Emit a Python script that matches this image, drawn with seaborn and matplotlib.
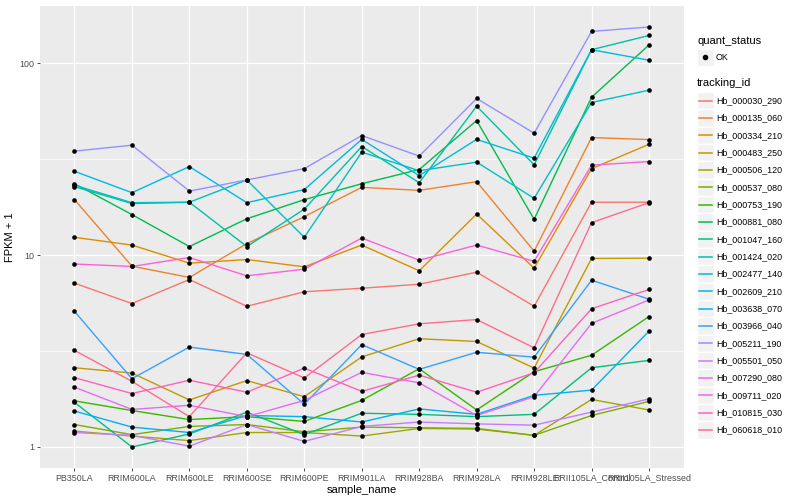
"""
Expression plot of 20 Hb transcripts across rubber tree samples
(cummeRbund / ggplot style, log10 FPKM + 1)
"""

import numpy as np
import pandas as pd
import matplotlib
matplotlib.use("Agg")
import matplotlib.pyplot as plt
from matplotlib.patches import Rectangle
import seaborn as sns

# Samples on the x axis
samples = ["PB350LA", "RRIM600LA", "RRIM600LE", "RRIM600SE", "RRIM600PE",
           "RRIM901LA", "RRIM928BA", "RRIM928LA", "RRIM928LE",
           "RRII105LA_Control", "RRII105LA_Stressed"]

# FPKM + 1 per transcript
hb_000030_290 = [7.15, 5.6, 7.47, 5.42, 6.45, 6.73, 7.06, 8.16, 5.42, 18.9, 18.9]
hb_000135_060 = [19.5, 8.77, 7.66, 11.5, 15.9, 22.6, 21.8, 24.2, 10.5, 41.1, 40.1]
hb_000334_210 = [12.4, 11.3, 9.09, 9.5, 8.7, 11.3, 8.3, 16.4, 8.56, 28.3, 37.9]
hb_000483_250 = [2.59, 2.43, 1.76, 2.22, 1.83, 2.95, 3.67, 3.55, 2.58, 9.62, 9.65]
hb_000506_120 = [1.21, 1.14, 1.08, 1.19, 1.19, 1.14, 1.25, 1.24, 1.15, 1.77, 1.56]
hb_000537_080 = [1.31, 1.16, 1.28, 1.31, 1.20, 1.27, 1.26, 1.25, 1.15, 1.46, 1.73]
hb_000753_190 = [1.74, 1.55, 1.39, 1.44, 1.36, 1.75, 2.56, 1.56, 2.47, 3.01, 4.79]
hb_000881_080 = [23.6, 16.3, 11.1, 15.5, 19.5, 23.6, 28.0, 50.4, 15.4, 66.7, 125]
hb_001047_160 = [1.71, 1.0, 1.17, 1.52, 1.16, 1.50, 1.48, 1.44, 1.48, 2.59, 2.83]
hb_001424_020 = [22.8, 18.6, 18.9, 11.1, 17.4, 36.9, 23.9, 59.9, 29.6, 118, 140]
hb_002477_140 = [23.2, 18.8, 18.9, 24.7, 12.4, 34.5, 27.6, 30.6, 19.8, 62.6, 72.6]
hb_002609_210 = [27.4, 21.2, 29.0, 18.8, 22.0, 40.2, 26.0, 40.2, 32.1, 118, 104]
hb_003638_070 = [1.54, 1.27, 1.19, 1.46, 1.44, 1.35, 1.58, 1.48, 1.86, 1.98, 4.02]
hb_003966_040 = [5.1, 2.27, 3.32, 3.04, 1.67, 3.42, 2.54, 3.12, 2.94, 7.41, 5.9]
hb_005211_190 = [34.9, 37.5, 21.6, 24.7, 28.3, 42.1, 32.9, 65.7, 43.3, 147, 155]
hb_005501_050 = [1.19, 1.15, 1.01, 1.31, 1.07, 1.28, 1.35, 1.32, 1.30, 1.52, 1.78]
hb_007290_080 = [2.05, 1.57, 1.65, 1.44, 1.75, 2.45, 2.16, 1.46, 1.83, 4.41, 5.85]
hb_009711_020 = [9.0, 8.74, 9.73, 7.81, 8.46, 12.3, 9.42, 11.3, 9.3, 29.5, 30.8]
hb_010815_030 = [2.30, 1.90, 2.23, 1.93, 2.58, 1.95, 2.37, 1.93, 2.44, 5.26, 6.63]
hb_060618_010 = [3.19, 2.2, 1.44, 3.1, 2.29, 3.86, 4.39, 4.62, 3.29, 14.8, 18.8]

tracking_ids = ["Hb_000030_290", "Hb_000135_060", "Hb_000334_210", "Hb_000483_250",
                "Hb_000506_120", "Hb_000537_080", "Hb_000753_190", "Hb_000881_080",
                "Hb_001047_160", "Hb_001424_020", "Hb_002477_140", "Hb_002609_210",
                "Hb_003638_070", "Hb_003966_040", "Hb_005211_190", "Hb_005501_050",
                "Hb_007290_080", "Hb_009711_020", "Hb_010815_030", "Hb_060618_010"]

series = [hb_000030_290, hb_000135_060, hb_000334_210, hb_000483_250,
          hb_000506_120, hb_000537_080, hb_000753_190, hb_000881_080,
          hb_001047_160, hb_001424_020, hb_002477_140, hb_002609_210,
          hb_003638_070, hb_003966_040, hb_005211_190, hb_005501_050,
          hb_007290_080, hb_009711_020, hb_010815_030, hb_060618_010]

# ggplot2 default hue palette for 20 levels
hue_colors = ["#F8766D", "#EA8331", "#D89000", "#C09B00", "#A3A500", "#7CAE00",
              "#39B600", "#00BB4E", "#00BF7D", "#00C1A3", "#00BFC4", "#00BAE0",
              "#00B0F6", "#35A2FF", "#9590FF", "#C77CFF", "#E76BF3", "#FA62DB",
              "#FF62BC", "#FF6C90"]

# Long table for seaborn
rows = []
for tid, vals in zip(tracking_ids, series):
    for s, v in zip(samples, vals):
        rows.append({"tracking_id": tid, "sample_name": s, "fpkm1": v, "quant_status": "OK"})
df = pd.DataFrame(rows)
df["x"] = df["sample_name"].map({s: i for i, s in enumerate(samples)})

plt.rcParams["font.family"] = ["Liberation Sans", "DejaVu Sans"]

fig = plt.figure(figsize=(8, 5), dpi=100)
ax = fig.add_axes([40 / 800, 1 - 468 / 500, (683.5 - 40) / 800, (468 - 6) / 500])
ax.set_facecolor("#EBEBEB")

palette = dict(zip(tracking_ids, hue_colors))
sns.lineplot(data=df, x="x", y="fpkm1", hue="tracking_id", palette=palette,
             sort=False, estimator=None, legend=False, linewidth=1.0, ax=ax, zorder=3)
sns.scatterplot(data=df, x="x", y="fpkm1", color="black", s=11, marker="o",
                linewidth=0, legend=False, ax=ax, zorder=4)

# log scale with ggplot-like 5% expansion
ax.set_yscale("log")
lo, hi = np.log10(df["fpkm1"].min()), np.log10(df["fpkm1"].max())
pad = 0.05 * (hi - lo)
ax.set_ylim(10 ** (lo - pad), 10 ** (hi + pad))
ax.set_xlim(-0.6, len(samples) - 1 + 0.6)

ax.set_yticks([1, 10, 100])
ax.set_yticklabels(["1", "10", "100"])
ax.set_yticks([10 ** 0.5, 10 ** 1.5], minor=True)
ax.yaxis.set_minor_formatter(matplotlib.ticker.NullFormatter())
ax.set_xticks(range(len(samples)))
ax.set_xticklabels(samples)

ax.grid(which="major", color="white", linewidth=0.9, zorder=0)
ax.grid(which="minor", axis="y", color="white", linewidth=0.45, zorder=0)
ax.set_axisbelow(True)
for sp in ax.spines.values():
    sp.set_visible(False)

ax.tick_params(which="major", length=2.5, width=0.6, color="#333333",
               labelsize=6.4, labelcolor="#4D4D4D", pad=1.5)
ax.tick_params(which="minor", length=0)
ax.set_xlabel("sample_name", fontsize=8, labelpad=2)
ax.set_ylabel("FPKM + 1", fontsize=8, labelpad=3)

# Legend drawn ggplot-style in pixel coordinates on an overlay
lg = fig.add_axes([0, 0, 1, 1])
lg.set_xlim(0, 800)
lg.set_ylim(500, 0)
lg.axis("off")
lg.patch.set_alpha(0)

lg.text(697, 41, "quant_status", fontsize=8, va="center", ha="left")
lg.add_patch(Rectangle((697, 48.5), 16.5, 17, facecolor="#F2F2F2", edgecolor="white"))
lg.plot([705.2], [57], "o", color="black", markersize=3)
lg.text(716, 57, "OK", fontsize=6.4, va="center", ha="left")

lg.text(697, 83, "tracking_id", fontsize=8, va="center", ha="left")
step = 17.33
for i, (tid, col) in enumerate(zip(tracking_ids, hue_colors)):
    cy = 100.7 + i * step
    lg.add_patch(Rectangle((697, cy - step / 2), 16.5, step,
                           facecolor="#F2F2F2", edgecolor="white", linewidth=1))
    lg.plot([698.5, 712], [cy, cy], color=col, linewidth=1.1)
    lg.text(716, cy, tid, fontsize=6.4, va="center", ha="left")

fig.savefig("out.png", dpi=100)
